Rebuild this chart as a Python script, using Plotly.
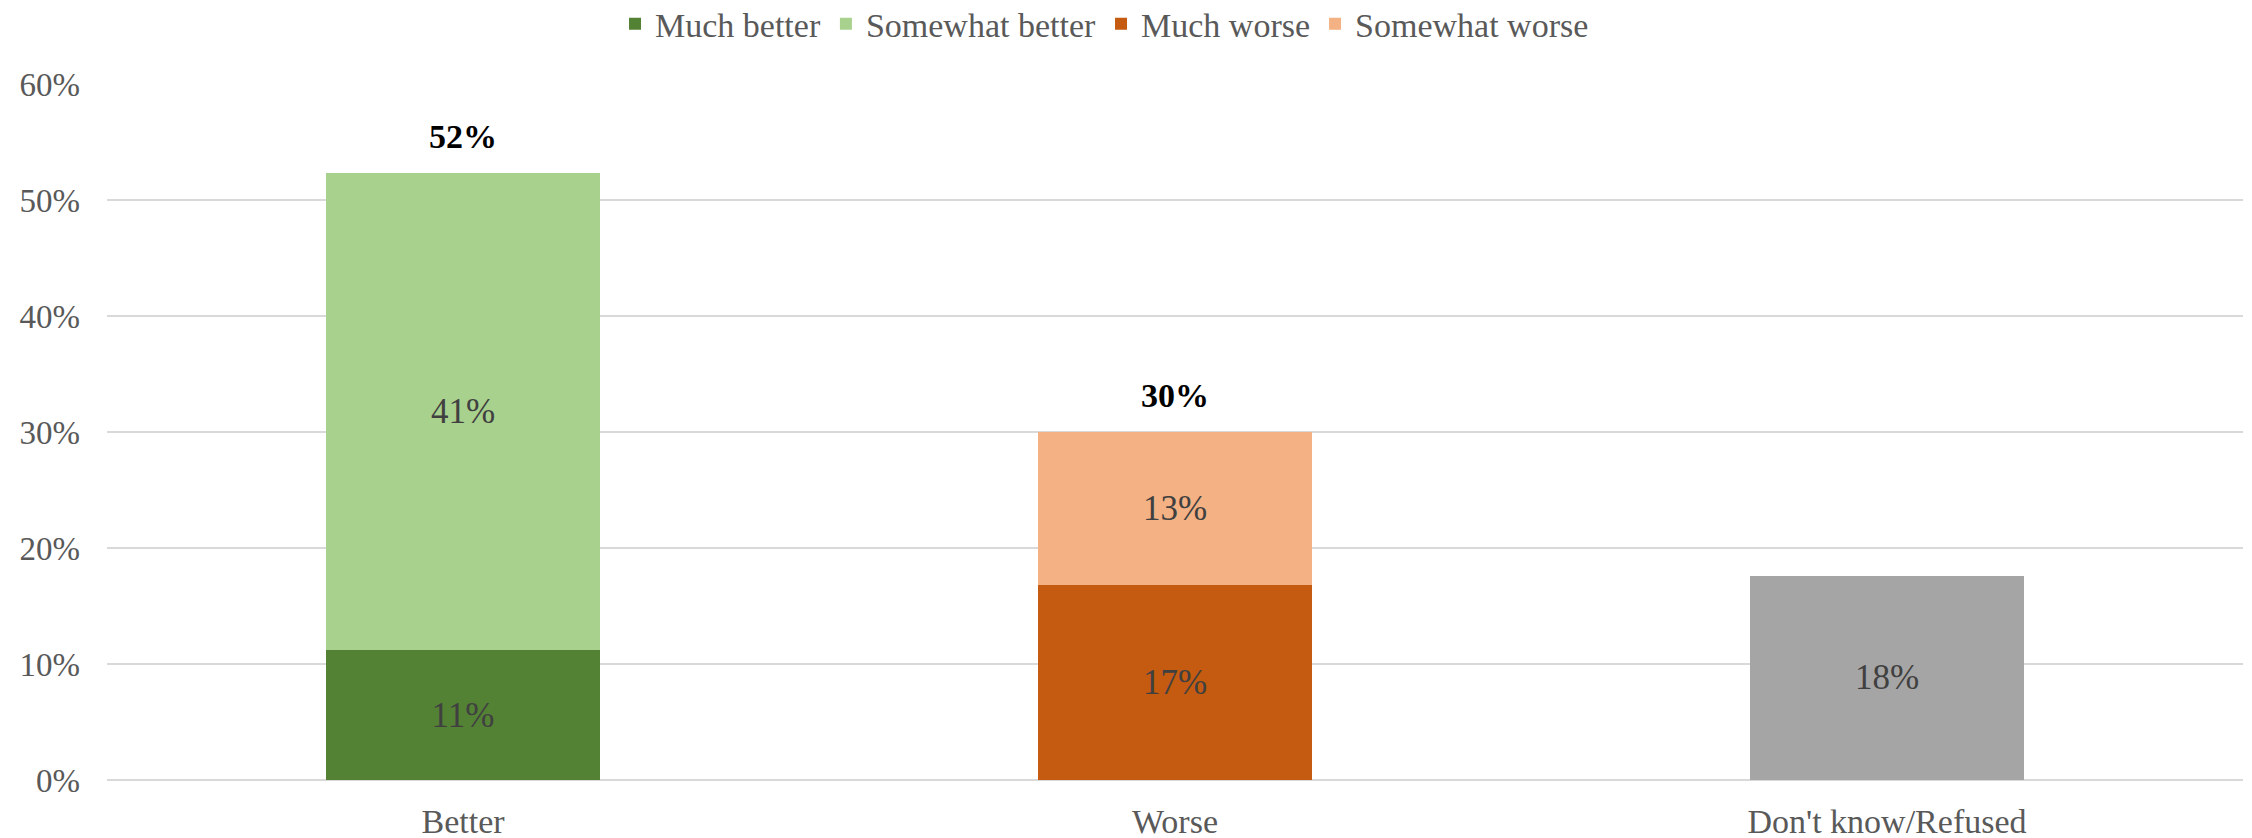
import plotly.graph_objects as go

categories = ["Better", "Worse", "Don't know/Refused"]
much_better = [11.2, None, None]
somewhat_better = [41.1, None, None]
much_worse = [None, 16.8, None]
somewhat_worse = [None, 13.2, None]
dont_know = [None, None, 17.6]
totals = [52.3, 30.0, None]
y_ticks = [0, 10, 20, 30, 40, 50, 60]
y_tick_labels = ["0%", "10%", "20%", "30%", "40%", "50%", "60%"]

FONT = "Liberation Serif"
TXT = "#404040"

def lab(vals):
    return [f"{round(v)}%" if v is not None else "" for v in vals]

fig = go.Figure()
series = [
    ("Much better", much_better, "#548235", True),
    ("Somewhat better", somewhat_better, "#A9D18E", True),
    ("Much worse", much_worse, "#C55A11", True),
    ("Somewhat worse", somewhat_worse, "#F4B183", True),
    ("Don't know/Refused", dont_know, "#A5A5A5", False),
]
for name, vals, color, show in series:
    fig.add_trace(go.Bar(
        x=categories, y=vals, name=name, marker=dict(color=color, line=dict(width=0)),
        text=lab(vals), textposition="inside", insidetextanchor="middle",
        textfont=dict(family=FONT, size=35, color=TXT), showlegend=show,
        textangle=0, cliponaxis=False,
    ))

for c, t in zip(categories, totals):
    if t is None:
        continue
    fig.add_annotation(x=c, y=t, text=f"<b>{round(t)}%</b>", showarrow=False,
                       yanchor="bottom", yshift=16,
                       font=dict(family=FONT, size=34, color="#000000"))

fig.update_layout(
    width=2252, height=838,
    barmode="stack", bargap=0.615,
    plot_bgcolor="white", paper_bgcolor="white",
    margin=dict(l=99, r=17, t=76, b=66, autoexpand=False),
    font=dict(family=FONT, size=34, color="#595959"),
    uniformtext=dict(minsize=35, mode="show"),
    legend=dict(orientation="h", x=0.467, xanchor="center", y=1.086, yref="paper",
                yanchor="middle", font=dict(family=FONT, size=34, color="#595959"),
                traceorder="normal", itemwidth=30, bgcolor="rgba(0,0,0,0)"),
    xaxis=dict(showgrid=False, showline=False, ticks="", tickfont=dict(size=34, color="#595959"),
               ticklabelstandoff=18, automargin=False),
    yaxis=dict(range=[0, 60], tickvals=y_ticks, ticktext=y_tick_labels,
               showgrid=True, gridcolor="#D9D9D9", gridwidth=2, zeroline=True,
               zerolinecolor="#D9D9D9", zerolinewidth=2, showline=False,
               tickfont=dict(size=33, color="#595959"), ticklabelstandoff=26,
               automargin=False),
)

fig.write_html("out.html")
